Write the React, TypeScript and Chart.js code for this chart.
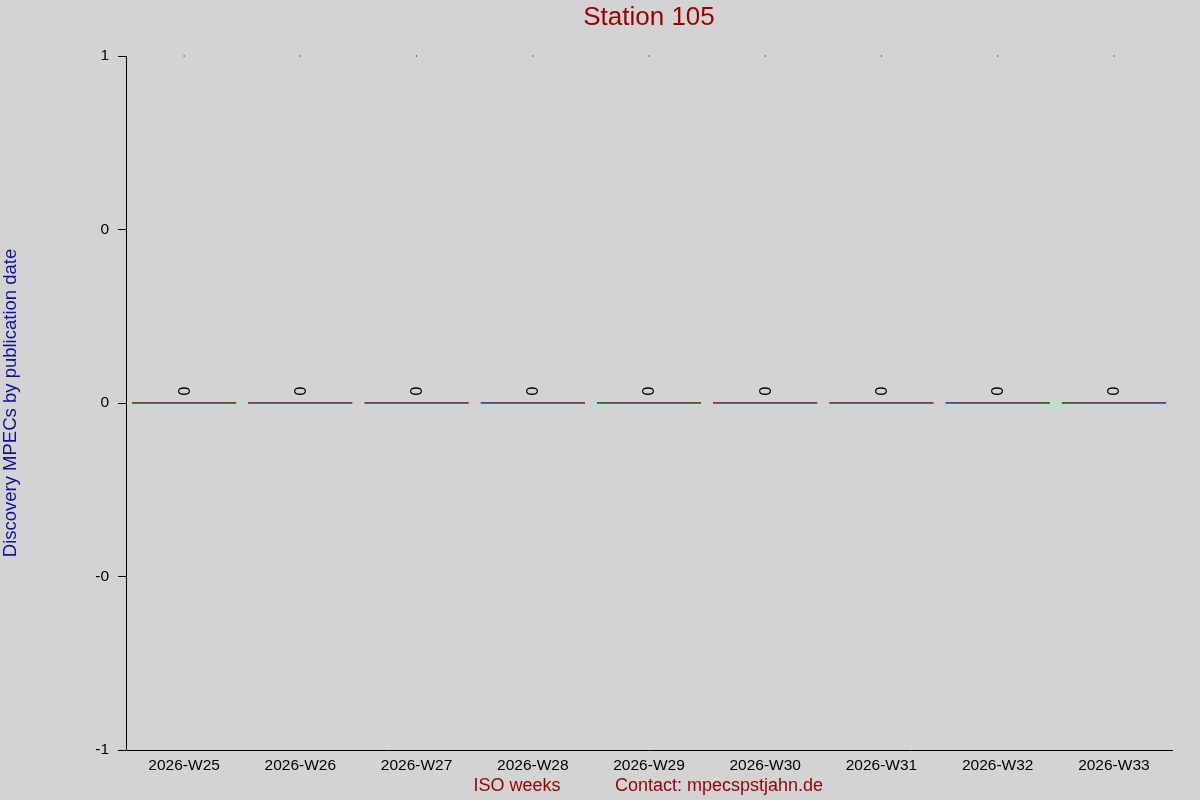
import { useEffect, useRef } from 'react';
import Chart from 'chart.js/auto';

const weeks = ['2026-W25', '2026-W26', '2026-W27', '2026-W28', '2026-W29', '2026-W30', '2026-W31', '2026-W32', '2026-W33'];
const discoveries = [0, 0, 0, 0, 0, 0, 0, 0, 0];
const topMarks = [1, 1, 1, 1, 1, 1, 1, 1, 1];
const yTickValues = [-1, -0.5, 0, 0.5, 1];
const yTickLabels = ['-1', '-0', '0', '0', '1'];

const FONT = '"Liberation Sans", Arial, sans-serif';
const DARK_RED = '#990000';
const NAVY = '#10109a';
const BAR = '#c84a14';

const overlay = {
    id: 'overlay',
    afterDatasetsDraw(chart: any) {
        const ctx = chart.ctx;
        const meta = chart.getDatasetMeta(0);
        ctx.save();
        ctx.fillStyle = '#000';
        ctx.font = `16px ${FONT}`;
        ctx.textAlign = 'center';
        ctx.textBaseline = 'middle';
        meta.data.forEach((bar: any, i: number) => {
            ctx.save();
            ctx.translate(bar.x + 1, bar.y - 13);
            ctx.rotate(-Math.PI / 2);
            ctx.fillText(String(discoveries[i]), 0, 0);
            ctx.restore();
        });
        ctx.restore();
    },
    afterDraw(chart: any) {
        const { ctx, chartArea } = chart;
        const cx = (chartArea.left + chartArea.right) / 2;
        ctx.save();
        ctx.textAlign = 'center';
        ctx.textBaseline = 'middle';

        ctx.fillStyle = DARK_RED;
        ctx.font = `26px ${FONT}`;
        ctx.fillText('Station 105', cx, 18);

        ctx.font = `18px ${FONT}`;
        ctx.fillText('ISO weeks', 517, 786);
        ctx.fillText('Contact: mpecspstjahn.de', 719, 786);

        ctx.fillStyle = NAVY;
        ctx.font = `18.5px ${FONT}`;
        ctx.translate(11, (chartArea.top + chartArea.bottom) / 2);
        ctx.rotate(-Math.PI / 2);
        ctx.fillText('Discovery MPECs by publication date', 0, 0);
        ctx.restore();
    },
};

export default function App() {
    const canvasRef = useRef<HTMLCanvasElement | null>(null);
    const chartRef = useRef<Chart | null>(null);

    useEffect(() => {
        document.body.style.margin = '0';
        if (!canvasRef.current) return;
        chartRef.current?.destroy();
        chartRef.current = new Chart(canvasRef.current, {
            type: 'bar',
            data: {
                labels: weeks,
                datasets: [
                    {
                        label: 'Discovery MPECs',
                        data: discoveries,
                        backgroundColor: BAR,
                        borderColor: '#505050',
                        borderWidth: { top: 1, bottom: 0, left: 0, right: 0 },
                        borderSkipped: false,
                        minBarLength: 2,
                        barPercentage: 0.9,
                        categoryPercentage: 1,
                    },
                    {
                        type: 'line',
                        label: 'top',
                        data: topMarks,
                        showLine: false,
                        pointStyle: 'rect',
                        pointRadius: 0.7,
                        pointBackgroundColor: '#000',
                        pointBorderWidth: 0,
                        clip: false,
                    } as any,
                ],
            },
            options: {
                animation: false,
                responsive: true,
                maintainAspectRatio: false,
                devicePixelRatio: 1,
                layout: { padding: { left: 0, right: 28, top: 56, bottom: 0 } },
                plugins: {
                    legend: { display: false },
                    title: { display: false },
                    tooltip: { enabled: false },
                },
                scales: {
                    x: {
                        grid: { display: false, drawTicks: false },
                        border: { display: true, color: '#000', width: 1 },
                        ticks: { color: '#000', font: { family: FONT, size: 15.5 }, padding: 6, maxRotation: 0 },
                        afterFit: (s: any) => { s.height = 50; },
                    },
                    y: {
                        min: -1,
                        max: 1,
                        afterBuildTicks: (s: any) => { s.ticks = yTickValues.map(v => ({ value: v })); },
                        grid: { drawOnChartArea: false, drawTicks: true, tickLength: 8, color: '#000' },
                        border: { display: true, color: '#000', width: 1 },
                        ticks: {
                            color: '#000',
                            font: { family: FONT, size: 15.5 },
                            padding: 9,
                            callback: (v: any) => yTickLabels[yTickValues.indexOf(Number(v))] ?? '',
                        },
                        afterFit: (s: any) => { s.width = 126; },
                    },
                },
            },
            plugins: [overlay],
        });
        return () => chartRef.current?.destroy();
    }, []);

    return (
        <div style={{ width: 1200, height: 800, background: '#d3d3d3' }}>
            <canvas ref={canvasRef} />
        </div>
    );
}
